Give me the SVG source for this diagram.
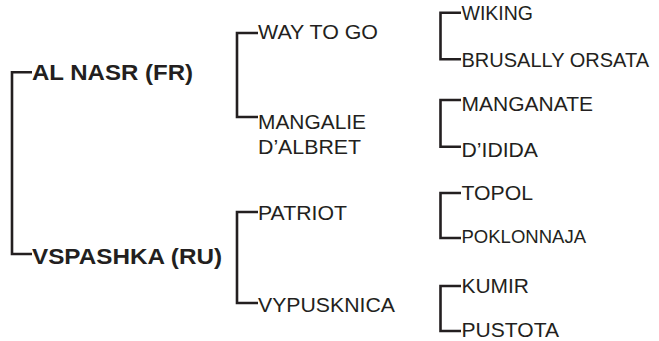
<svg xmlns="http://www.w3.org/2000/svg" width="659" height="341" viewBox="0 0 659 341">
<style>
.c{fill:none;stroke:#231f20;stroke-width:2.6;stroke-linecap:butt;stroke-linejoin:miter}
text{font-family:"Liberation Sans",Arial,sans-serif;fill:#231f20}
.b{font-size:22px;font-weight:bold}
.r{font-size:19.5px}
.s{font-size:18px}
</style>
<rect width="659" height="341" fill="#fff"/>
<g id="connectors">
<path class="c" d="M32,72.3 H12 V254 H32"/>
<path class="c" d="M258,33 H237 V117 H258"/>
<path class="c" d="M258,212 H237 V303 H258"/>
<path class="c" d="M461,12.7 H440.5 V59.3 H461"/>
<path class="c" d="M461,100 H440.5 V146.7 H461"/>
<path class="c" d="M461,193 H440.5 V238 H461"/>
<path class="c" d="M461,286 H440.5 V331 H461"/>
</g>
<g id="n1"><text class="b" x="32" y="79.5" textLength="161" lengthAdjust="spacingAndGlyphs">AL NASR (FR)</text></g>
<g id="n2"><text class="b" x="32" y="263.5" textLength="190" lengthAdjust="spacingAndGlyphs">VSPASHKA (RU)</text></g>
<g id="n3"><text class="r" x="258" y="39" textLength="120" lengthAdjust="spacingAndGlyphs">WAY TO GO</text></g>
<g id="n4"><text class="r" x="258" y="128.5" textLength="108" lengthAdjust="spacingAndGlyphs">MANGALIE</text><text class="r" x="258" y="154" textLength="103" lengthAdjust="spacingAndGlyphs">D’ALBRET</text></g>
<g id="n5"><text class="r" x="258" y="220" textLength="89" lengthAdjust="spacingAndGlyphs">PATRIOT</text></g>
<g id="n6"><text class="r" x="258" y="312" textLength="137" lengthAdjust="spacingAndGlyphs">VYPUSKNICA</text></g>
<g id="n7"><text class="r" x="461.5" y="20" textLength="71.5" lengthAdjust="spacingAndGlyphs">WIKING</text></g>
<g id="n8"><text class="r" x="461.5" y="67" textLength="187.5" lengthAdjust="spacingAndGlyphs">BRUSALLY ORSATA</text></g>
<g id="n9"><text class="r" x="461.5" y="111" textLength="131.5" lengthAdjust="spacingAndGlyphs">MANGANATE</text></g>
<g id="n10"><text class="r" x="461.5" y="157" textLength="76.5" lengthAdjust="spacingAndGlyphs">D’IDIDA</text></g>
<g id="n11"><text class="r" x="461.5" y="200" textLength="71.5" lengthAdjust="spacingAndGlyphs">TOPOL</text></g>
<g id="n12"><text class="s" x="461.5" y="243" textLength="124.5" lengthAdjust="spacingAndGlyphs">POKLONNAJA</text></g>
<g id="n13"><text class="r" x="461.5" y="293" textLength="67.5" lengthAdjust="spacingAndGlyphs">KUMIR</text></g>
<g id="n14"><text class="r" x="461.5" y="337" textLength="97.5" lengthAdjust="spacingAndGlyphs">PUSTOTA</text></g>
</svg>
